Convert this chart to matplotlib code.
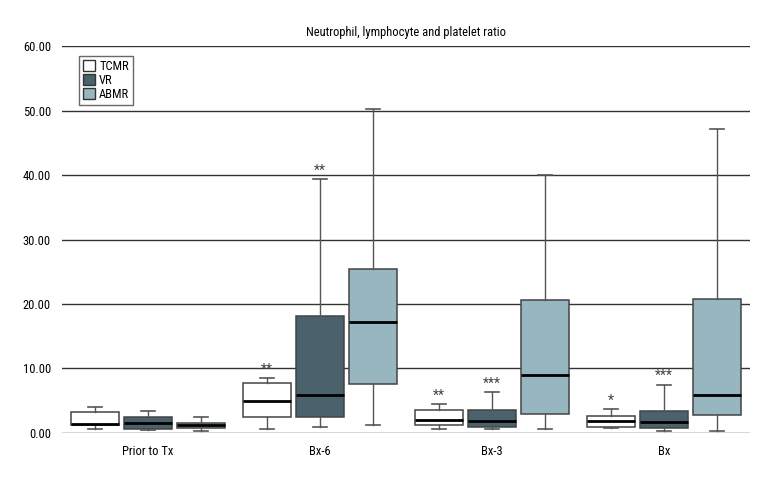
import matplotlib
matplotlib.use('Agg')
import matplotlib.pyplot as plt
from matplotlib.patches import Patch

plt.rcParams['font.family'] = ['Roboto Condensed', 'DejaVu Sans']
plt.rcParams['font.stretch'] = 'condensed'

# time points and groups
timepoints = ['Prior to Tx', 'Bx-6', 'Bx-3', 'Bx']
groups = ['TCMR', 'VR', 'ABMR']
colors = ['#ffffff', '#4b616c', '#97b6bf']

# box stats per group, one value per time point
tcmr_low = [0.6, 0.6, 0.65, 0.8]
tcmr_q1 = [1.25, 2.5, 1.2, 1.0]
tcmr_med = [1.45, 5.0, 2.0, 1.9]
tcmr_q3 = [3.25, 7.7, 3.6, 2.6]
tcmr_high = [4.0, 8.5, 4.45, 3.7]

vr_low = [0.45, 0.95, 0.57, 0.35]
vr_q1 = [0.65, 2.4, 1.0, 0.7]
vr_med = [1.55, 5.85, 1.8, 1.7]
vr_q3 = [2.5, 18.2, 3.5, 3.4]
vr_high = [3.4, 39.4, 6.3, 7.5]

abmr_low = [0.3, 1.3, 0.67, 0.35]
abmr_q1 = [0.7, 7.55, 3.0, 2.75]
abmr_med = [1.2, 17.2, 9.05, 5.95]
abmr_q3 = [1.6, 25.4, 20.6, 20.7]
abmr_high = [2.4, 50.3, 40.0, 47.1]

# significance marks per time point
stars_tcmr = ['', '**', '**', '*']
stars_vr = ['', '**', '***', '***']

all_stats = [
    (tcmr_low, tcmr_q1, tcmr_med, tcmr_q3, tcmr_high),
    (vr_low, vr_q1, vr_med, vr_q3, vr_high),
    (abmr_low, abmr_q1, abmr_med, abmr_q3, abmr_high),
]

fig = plt.figure(figsize=(7.8, 4.8), dpi=100)
ax = fig.add_axes([0.0795, 0.098, 0.882, 0.806])

offset = 0.307
width = 0.278
for g in range(3):
    low, q1, med, q3, high = all_stats[g]
    stats = []
    for i in range(len(timepoints)):
        stats.append({'whislo': low[i], 'q1': q1[i], 'med': med[i],
                      'q3': q3[i], 'whishi': high[i], 'fliers': []})
    pos = [i + (g - 1) * offset for i in range(len(timepoints))]
    ax.bxp(stats, positions=pos, widths=width, patch_artist=True,
           showfliers=False, manage_ticks=False,
           boxprops=dict(facecolor=colors[g], edgecolor='#444444', linewidth=1.1),
           medianprops=dict(color='black', linewidth=2),
           whiskerprops=dict(color='#555555', linewidth=1),
           capprops=dict(color='#555555', linewidth=1.2),
           capwidths=width * 0.3, zorder=3)

# star labels above whiskers
for i in range(len(timepoints)):
    if stars_tcmr[i]:
        ax.text(i - offset, tcmr_high[i] + 0.2, stars_tcmr[i], ha='center',
                va='bottom', fontsize=10, color='#444444', zorder=4)
    if stars_vr[i]:
        ax.text(i, vr_high[i] + 0.2, stars_vr[i], ha='center',
                va='bottom', fontsize=10, color='#444444', zorder=4)

ax.set_xlim(-0.5, 3.5)
ax.set_ylim(0, 60)
ax.set_yticks([0, 10, 20, 30, 40, 50, 60])
ax.set_yticklabels(['%.2f' % v for v in [0, 10, 20, 30, 40, 50, 60]], fontsize=9)
ax.set_xticks(range(len(timepoints)))
ax.set_xticklabels(timepoints, fontsize=9)
ax.tick_params(axis='y', length=0, pad=8)
ax.tick_params(axis='x', length=0, pad=9)
for s in ax.spines.values():
    s.set_visible(False)
ax.yaxis.grid(True, color='#333333', linewidth=1)
ax.set_axisbelow(True)
ax.set_title('Neutrophil, lymphocyte and platelet ratio', fontsize=9, pad=7)

handles = [Patch(facecolor=c, edgecolor='#333333') for c in colors]
leg = ax.legend(handles, groups, loc='upper left', bbox_to_anchor=(0.025, 0.975),
                fontsize=9, frameon=True, fancybox=False, handlelength=1.0,
                handleheight=1.0, handletextpad=0.3, borderpad=0.3,
                labelspacing=0.1, borderaxespad=0)
leg.get_frame().set_edgecolor('#444444')
leg.get_frame().set_linewidth(1)

plt.savefig('out.png', dpi=100)
